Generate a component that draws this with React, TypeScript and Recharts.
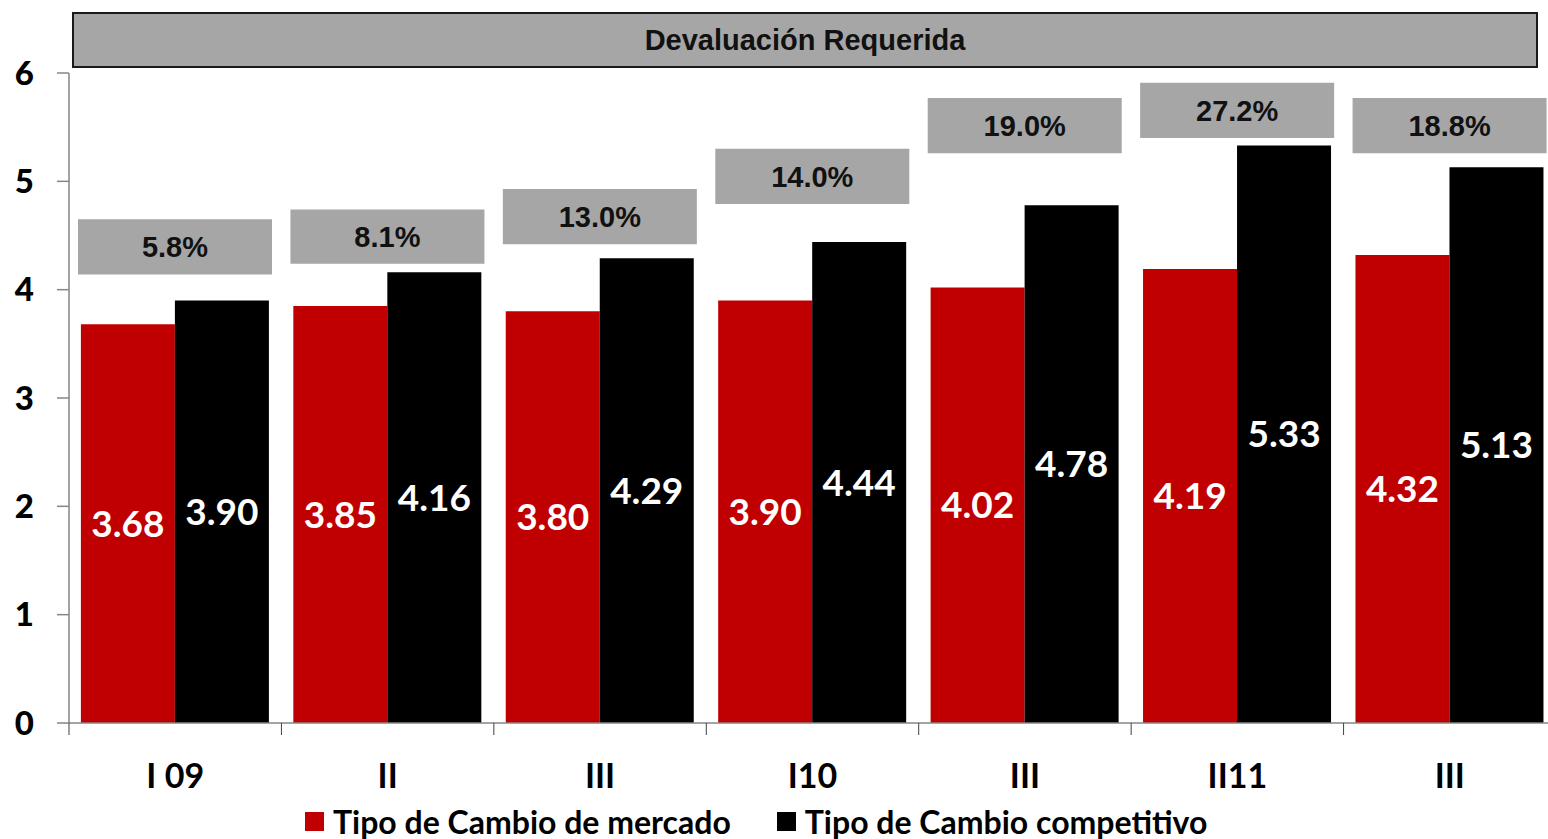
import React from 'react';
import { BarChart, Bar, XAxis, YAxis, LabelList, Legend } from 'recharts';

const categories = ['I 09', 'II', 'III', 'I10', 'III', 'II11', 'III'];
const mercado = [3.68, 3.85, 3.8, 3.9, 4.02, 4.19, 4.32];
const competitivo = [3.9, 4.16, 4.29, 4.44, 4.78, 5.33, 5.13];
const devaluacion = [5.8, 8.1, 13.0, 14.0, 19.0, 27.2, 18.8];
const boxTop = [4.65, 4.74, 4.93, 5.3, 5.77, 5.91, 5.77];
const boxBottom = [4.14, 4.24, 4.42, 4.79, 5.26, 5.4, 5.26];
const yTicks = [0, 1, 2, 3, 4, 5, 6];

const RED = '#C00000';
const BLACK = '#000000';
const GRAY = '#A6A6A6';
const AXIS = '#868686';

const data = categories.map((c, i) => ({
  key: String(i),
  label: c,
  mercado: mercado[i],
  competitivo: competitivo[i],
  box: [boxBottom[i], boxTop[i]],
  pct: devaluacion[i].toFixed(1) + '%',
}));

const CategoryTick = (props: any) => {
  const { x, y, payload } = props;
  const half = payload && typeof payload.offset === 'number' ? payload.offset : 0;
  const idx = Number(payload.value);
  return (
    <g>
      <line x1={x - half} x2={x - half} y1={y} y2={y + 12} stroke="#404040" strokeWidth={1} />
      <text
        x={x}
        y={y + 65}
        textAnchor="middle"
        fontFamily="Lato"
        fontWeight="bold"
        fontSize={34}
        fill="#000"
      >
        {categories[idx]}
      </text>
    </g>
  );
};

const legendItems = [
  { name: 'Tipo de Cambio de mercado', color: RED },
  { name: 'Tipo de Cambio competitivo', color: BLACK },
];

const LegendContent = () => (
  <div style={{ display: 'flex', alignItems: 'center', height: 46, paddingTop: 10, boxSizing: 'border-box' }}>
    {legendItems.map((it, i) => (
      <div key={it.name} style={{ display: 'flex', alignItems: 'center', marginLeft: i === 0 ? 0 : 46 }}>
        <div style={{ width: 19, height: 19, background: it.color, marginRight: 9 }} />
        <span style={{ fontFamily: 'Lato', fontWeight: 'bold', fontSize: 32, color: '#000', whiteSpace: 'nowrap' }}>
          {it.name}
        </span>
      </div>
    ))}
  </div>
);

export default function App() {
  return (
    <div
      style={{
        position: 'absolute',
        left: 0,
        top: 0,
        width: 1548,
        height: 839,
        overflow: 'hidden',
        background: '#fff',
      }}
    >
      <BarChart
        width={1556}
        height={839}
        data={data}
        margin={{ top: 73, right: 0, left: 0, bottom: 0 }}
        barCategoryGap="5.6%"
        barGap={0}
      >
        <XAxis
          dataKey="key"
          xAxisId="main"
          height={70}
          tickLine={false}
          tickSize={0}
          tickMargin={0}
          axisLine={{ stroke: AXIS, strokeWidth: 1.5 }}
          tick={<CategoryTick />}
          interval={0}
        />
        <XAxis dataKey="key" xAxisId="box" hide height={0} />
        <YAxis
          yAxisId="main"
          width={69}
          domain={[0, 6]}
          ticks={yTicks}
          interval={0}
          tickSize={12}
          tickMargin={23}
          axisLine={{ stroke: AXIS, strokeWidth: 1.5 }}
          tickLine={{ stroke: AXIS, strokeWidth: 1.5 }}
          tick={{ fontFamily: 'Lato', fontWeight: 900, fontSize: 33, fill: '#000' }}
        />
        <YAxis yAxisId="box" domain={[0, 6]} hide width={0} />
        <Legend
          verticalAlign="bottom"
          content={<LegendContent />}
          wrapperStyle={{ left: 305, bottom: 0, width: 'auto' }}
        />
        <Bar
          xAxisId="box"
          yAxisId="box"
          dataKey={(d: any) => d.box}
          fill={GRAY}
          barSize={194}
          isAnimationActive={false}
          legendType="none"
        >
          <LabelList
            dataKey="pct"
            position="center"
            fill="#111"
            fontFamily="'Liberation Sans', Arial"
            fontWeight="bold"
            fontSize={29}
          />
        </Bar>
        <Bar
          xAxisId="main"
          yAxisId="main"
          dataKey="mercado"
          name="Tipo de Cambio de mercado"
          fill={RED}
          isAnimationActive={false}
        >
          <LabelList
            dataKey="mercado"
            position="center"
            fill="#fff"
            fontFamily="Lato"
            fontWeight="bold"
            fontSize={37}
            formatter={(v: any) => Number(v).toFixed(2)}
          />
        </Bar>
        <Bar
          xAxisId="main"
          yAxisId="main"
          dataKey="competitivo"
          name="Tipo de Cambio competitivo"
          fill={BLACK}
          isAnimationActive={false}
        >
          <LabelList
            dataKey="competitivo"
            position="center"
            fill="#fff"
            fontFamily="Lato"
            fontWeight="bold"
            fontSize={37}
            formatter={(v: any) => Number(v).toFixed(2)}
          />
        </Bar>
      </BarChart>
      <div
        style={{
          position: 'absolute',
          left: 72,
          top: 12,
          width: 1466,
          height: 56,
          boxSizing: 'border-box',
          border: '2px solid #1a1a1a',
          background: GRAY,
          display: 'flex',
          alignItems: 'center',
          justifyContent: 'center',
          fontFamily: "'Liberation Sans', Arial",
          fontWeight: 'bold',
          fontSize: 29,
          color: '#111',
        }}
      >
        Devaluación Requerida
      </div>
    </div>
  );
}
